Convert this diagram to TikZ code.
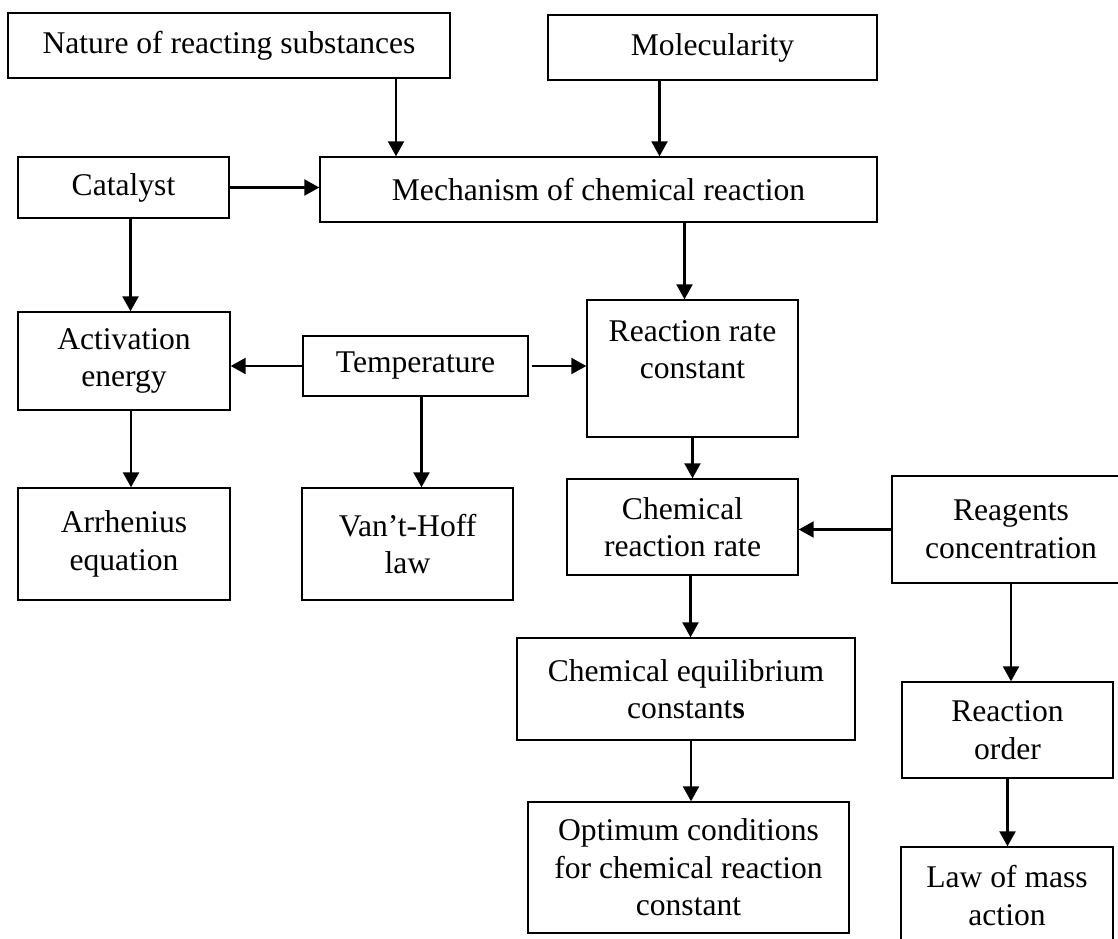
\documentclass[tikz,border=0pt]{standalone}
\usepackage{fontspec}
\setmainfont{Liberation Serif}
\usetikzlibrary{arrows.meta, positioning, calc}

\begin{document}
\begin{tikzpicture}[
		x=1pt, y=-1pt,
		box/.style={draw, line width=1.4pt, inner sep=0pt, align=center, font=\fontsize{31.6}{37.5}\selectfont},
		arr/.style={-{Triangle[length=15pt,width=16pt]}, line width=2.3pt}
		]
		\path[use as bounding box, fill=white] (0,0) rectangle (1118,938);
		
		\node[box, minimum width=442pt, minimum height=65pt] (nat) at (229,45.5) {Nature of reacting substances};
		\node[box, minimum width=329pt, minimum height=65pt] (mol) at (712.5,47.5) {Molecularity};
		\node[box, minimum width=211pt, minimum height=61pt] (cat) at (123.5,187.5) {Catalyst};
		\node[box, minimum width=557pt, minimum height=65pt] (mech) at (598.5,189.5) {Mechanism of chemical reaction};
		\node[box, minimum width=212pt, minimum height=98pt] (act) at (124,361) {Activation\\energy};
		\node[box, minimum width=225pt, minimum height=60pt] (temp) at (415.5,366) {Temperature};
		\node[box, minimum width=211pt, minimum height=137pt] (rrc) at (692.5,368.5) {Reaction rate\\constant\rule[-38pt]{0pt}{0pt}};
		\node[box, minimum width=212pt, minimum height=112pt] (arrh) at (124,544) {Arrhenius\\equation};
		\node[box, minimum width=211pt, minimum height=112pt] (vh) at (407.5,544) {Van’t-Hoff\\law};
		\node[box, minimum width=231pt, minimum height=96pt] (crr) at (682.5,527) {Chemical\\reaction rate};
		\node[box, minimum width=238pt, minimum height=107pt] (reag) at (1011,529.5) {Reagents\\concentration};
		\node[box, minimum width=338pt, minimum height=102pt] (eq) at (686,689) {Chemical equilibrium\\constant\textbf{s}};
		\node[box, minimum width=211pt, minimum height=96pt] (ord) at (1007.5,730) {Reaction\\order};
		\node[box, minimum width=321pt, minimum height=131pt] (opt) at (688.5,867.5) {Optimum conditions\\for chemical reaction\\constant};
		\node[box, minimum width=212pt, minimum height=97pt] (law) at (1007,895.5) {Law of mass\\action};
		
		\draw[arr] ([xshift=167pt]nat.south) -- ([xshift=167pt]nat.south |- mech.north);
		\draw[arr] ([xshift=-53pt]mol.south) -- ([xshift=-53pt]mol.south |- mech.north);
		\draw[arr] (cat.east) -- (cat.east -| mech.west);
		\draw[arr] ([xshift=7pt]cat.south) -- ([xshift=7pt]cat.south |- act.north);
		\draw[arr] ([xshift=-8pt]rrc.north |- mech.south) -- ([xshift=-8pt]rrc.north);
		\draw[arr] (temp.west) -- (temp.west -| act.east);
		\draw[arr] ([xshift=3pt]temp.east) -- (temp.east -| rrc.west);
		\draw[arr] ([xshift=6pt]temp.south) -- ([xshift=6pt]temp.south |- vh.north);
		\draw[arr] ([xshift=7pt]act.south) -- ([xshift=7pt]act.south |- arrh.north);
		\draw[arr] (rrc.south) -- (rrc.south |- crr.north);
		\draw[arr] (reag.west) -- (reag.west -| crr.east);
		\draw[arr] ([xshift=8pt]crr.south) -- ([xshift=8pt]crr.south |- eq.north);
		\draw[arr] (reag.south) -- (reag.south |- ord.north);
		\draw[arr] ([xshift=5pt]eq.south) -- ([xshift=5pt]eq.south |- opt.north);
		\draw[arr] (ord.south) -- (ord.south |- law.north);
	\end{tikzpicture}
\end{document}
